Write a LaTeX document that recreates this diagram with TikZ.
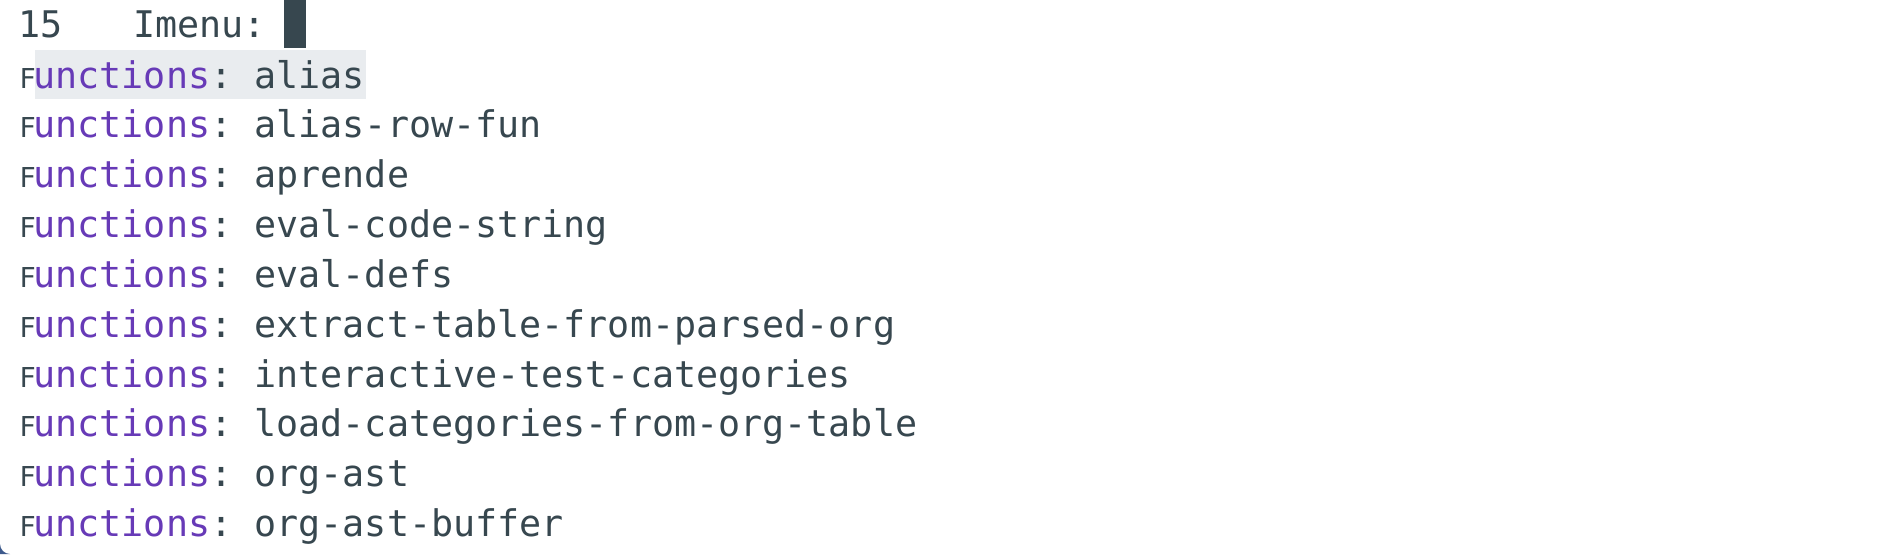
\documentclass[tikz,border=0pt]{standalone}
\usepackage{fontspec}
\setmonofont{DejaVu Sans Mono}
\definecolor{ink}{HTML}{37474F}
\definecolor{fnc}{HTML}{673AB7}
\definecolor{hl}{HTML}{E9ECEF}
\definecolor{framec}{HTML}{3D5A8C}
\begin{document}
\begin{tikzpicture}[x=1pt,y=-1pt,
  every node/.style={inner sep=0pt,outer sep=0pt},
  txt/.style={anchor=base west,font=\fontsize{36.7}{40}\selectfont\ttfamily,text=ink},
  pre/.style={anchor=base,font=\fontsize{27.4}{30}\selectfont\ttfamily,text=ink}]
\useasboundingbox[fill=white] (0,0) rectangle (1892,554);
% highlight of the selected candidate
\fill[hl] (35,50) rectangle (366,99);
% cursor
\fill[ink] (284,0) rectangle (306,48);
% frame corner
\fill[framec] (0,544) .. controls (0,549.5) and (4.5,554) .. (10,554) -- (0,554) -- cycle;
% prompt line
\node[txt] (num) at (18.5,37) {15};
\node[txt] (prompt) at (133.5,37) {Imenu:};
% candidates
\foreach \i/\name in {1/alias,2/alias-row-fun,3/aprende,4/eval-code-string,5/eval-defs,6/extract-table-from-parsed-org,7/interactive-test-categories,8/load-categories-from-org-table,9/org-ast,10/org-ast-buffer}{
  \pgfmathsetmacro\yb{88+(\i-1)*49.85}
  \node[pre] (p\i) at (27.5,\yb) {F};
  \node[txt] (r\i) at (33.5,\yb) {\textcolor{fnc}{unctions}: \name};
}
\end{tikzpicture}
\end{document}
